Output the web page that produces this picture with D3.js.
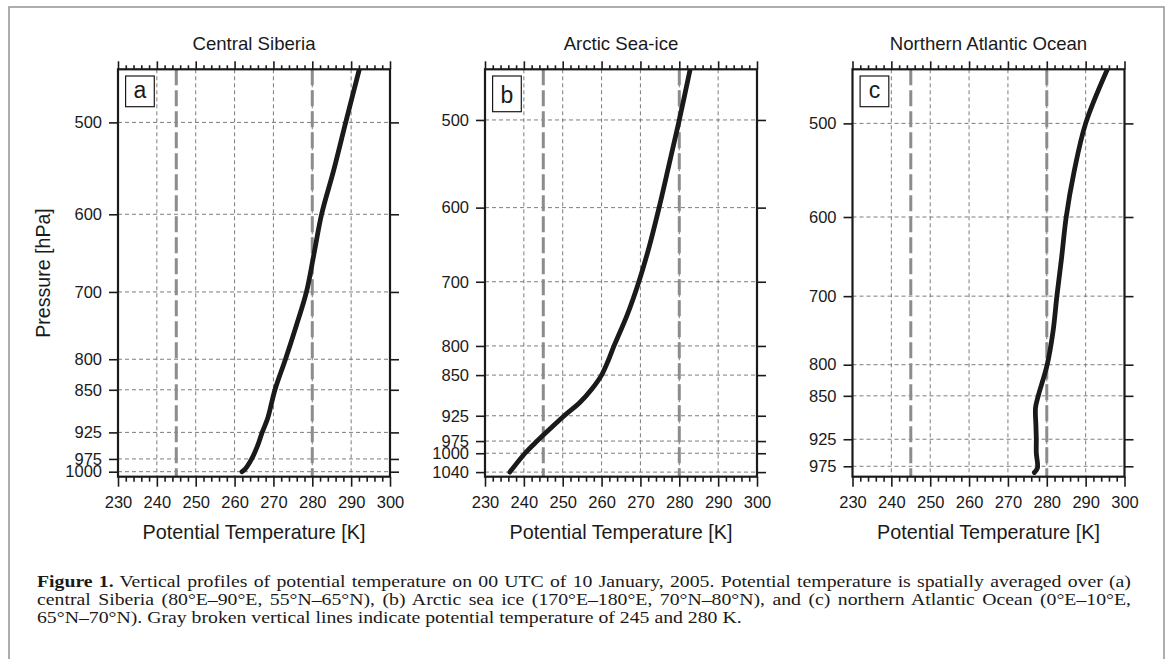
<!DOCTYPE html>
<html>
<head>
<meta charset="utf-8">
<script src="https://cdn.jsdelivr.net/npm/d3@7"></script>
<style>
  body { margin: 0; background: #fff; }
  svg text { font-family: "Liberation Sans", Arial, sans-serif; fill: #1a1a1a; }
  .caption text { font-family: "Liberation Serif", "Times New Roman", serif; }
</style>
</head>
<body>
<svg id="fig" width="1171" height="659"></svg>
<script>
// ---- data ----
const panelTitles = ["Central Siberia", "Arctic Sea-ice", "Northern Atlantic Ocean"];
const panelLetters = ["a", "b", "c"];
const tempTicks = [230, 240, 250, 260, 270, 280, 290, 300];
const refTemps = [245, 280];

const pressureTicksA = [500, 600, 700, 800, 850, 925, 975, 1000];
const pressureTicksB = [500, 600, 700, 800, 850, 925, 975, 1000, 1040];
const pressureTicksC = [500, 600, 700, 800, 850, 925, 975];
const pressureTop = 450;
const pressureBottom = [1010, 1050, 995];

// Central Siberia
const siberiaP = [1000, 995, 975, 950, 925, 900, 850, 800, 750, 700, 650, 600, 550, 500, 450];
const siberiaT = [261.9, 262.7, 264.4, 265.9, 267.1, 268.5, 270.4, 273.1, 275.8, 278.5, 280.4, 282.4, 285.5, 288.6, 292.1];
// Arctic sea ice
const arcticP = [1040, 1000, 975, 950, 925, 900, 875, 850, 825, 800, 750, 700, 650, 600, 550, 500, 450];
const arcticT = [236.4, 240.3, 243.4, 246.8, 250.4, 254.4, 257.5, 260.0, 261.7, 263.2, 266.6, 269.6, 272.3, 274.8, 277.3, 280.0, 282.8];
// Northern Atlantic Ocean
const atlanticP = [987, 978, 950, 925, 900, 870, 850, 800, 750, 700, 650, 600, 550, 500, 450];
const atlanticT = [276.8, 277.6, 277.3, 277.3, 277.2, 277.1, 277.8, 280.1, 281.6, 282.6, 283.8, 285.0, 287.0, 290.0, 295.6];

const captionLines = [
  ["Figure 1.", " Vertical profiles of potential temperature on 00 UTC of 10 January, 2005. Potential temperature is spatially averaged over (a)"],
  ["", "central Siberia (80°E–90°E, 55°N–65°N), (b) Arctic sea ice (170°E–180°E, 70°N–80°N), and (c) northern Atlantic Ocean (0°E–10°E,"],
  ["", "65°N–70°N). Gray broken vertical lines indicate potential temperature of 245 and 280 K."]
];

const profiles = [
  { p: siberiaP, t: siberiaT, ticks: pressureTicksA },
  { p: arcticP, t: arcticT, ticks: pressureTicksB },
  { p: atlanticP, t: atlanticT, ticks: pressureTicksC }
];

// ---- layout ----
const panelLeft = [118, 485, 852.5];
const plotTop = 69.3;
const plotW = 272;
const plotH = 407.4;
const boxH = [30.7, 35.7, 30.7];

const svg = d3.select("#fig");

// figure frame (open at the bottom)
svg.append("rect")
  .attr("x", 9).attr("y", 7)
  .attr("width", 1155).attr("height", 700)
  .attr("fill", "none")
  .attr("stroke", "#9a9a9a")
  .attr("stroke-width", 1.6);

const minorTicks = d3.range(230, 301, 2).filter(d => d % 10 !== 0);

profiles.forEach(function (pr, i) {
  const g = svg.append("g")
    .attr("transform", "translate(" + panelLeft[i] + "," + plotTop + ")");

  const x = d3.scaleLinear().domain([230, 300]).range([0, plotW]);
  const y = d3.scaleLog().domain([pressureTop, pressureBottom[i]]).range([0, plotH]);

  // grid
  g.append("g").selectAll("line")
    .data(tempTicks.slice(1, -1)).join("line")
    .attr("x1", d => x(d)).attr("x2", d => x(d))
    .attr("y1", 0).attr("y2", plotH)
    .attr("stroke", "#6e6e6e").attr("stroke-width", 0.9)
    .attr("stroke-dasharray", "4,3");
  g.append("g").selectAll("line")
    .data(pr.ticks).join("line")
    .attr("x1", 0).attr("x2", plotW)
    .attr("y1", d => y(d)).attr("y2", d => y(d))
    .attr("stroke", "#6e6e6e").attr("stroke-width", 0.9)
    .attr("stroke-dasharray", "4,3");

  // reference lines 245 / 280 K
  g.append("g").selectAll("line")
    .data(refTemps).join("line")
    .attr("x1", d => x(d)).attr("x2", d => x(d))
    .attr("y1", 0).attr("y2", plotH)
    .attr("stroke", "#8c8c8c").attr("stroke-width", 3)
    .attr("stroke-dasharray", "16,5");

  // profile
  const clipId = "clip" + i;
  g.append("clipPath").attr("id", clipId)
    .append("rect").attr("width", plotW).attr("height", plotH);
  const pts = pr.p.map((p, k) => [pr.t[k], p]);
  g.append("path")
    .datum(pts)
    .attr("clip-path", "url(#" + clipId + ")")
    .attr("fill", "none")
    .attr("stroke", "#1a1a1a")
    .attr("stroke-width", 4.8)
    .attr("stroke-linecap", "round")
    .attr("stroke-linejoin", "round")
    .attr("d", d3.line()
      .x(d => x(d[0]))
      .y(d => y(d[1]))
      .curve(d3.curveCatmullRom.alpha(0.5)));

  // axes
  g.append("g").attr("transform", "translate(0," + plotH + ")")
    .call(d3.axisBottom(x).tickValues(minorTicks).tickSize(5).tickSizeOuter(0).tickFormat(""));
  g.append("g").attr("transform", "translate(0," + plotH + ")")
    .call(d3.axisBottom(x).tickValues(tempTicks).tickSize(10).tickSizeOuter(0).tickPadding(10));
  g.append("g")
    .call(d3.axisTop(x).tickValues(minorTicks).tickSize(4).tickSizeOuter(0).tickFormat(""));
  g.append("g")
    .call(d3.axisTop(x).tickValues(tempTicks).tickSize(8).tickSizeOuter(0).tickFormat(""));
  g.append("g")
    .call(d3.axisLeft(y).tickValues(pr.ticks).tickFormat(d3.format("d")).tickSize(9).tickSizeOuter(0).tickPadding(7));
  g.append("g").attr("transform", "translate(" + plotW + ",0)")
    .call(d3.axisRight(y).tickValues(pr.ticks).tickFormat("").tickSize(9).tickSizeOuter(0));

  g.selectAll(".domain").remove();
  g.selectAll(".tick line").attr("stroke", "#1a1a1a").attr("stroke-width", 1.6);
  g.selectAll(".tick text")
    .attr("font-size", 16.5)
    .attr("font-family", "Liberation Sans, Arial, sans-serif")
    .attr("fill", "#1a1a1a");

  // plot frame
  g.append("rect")
    .attr("width", plotW).attr("height", plotH)
    .attr("fill", "none")
    .attr("stroke", "#1a1a1a")
    .attr("stroke-width", 2.2);

  // letter box
  g.append("rect")
    .attr("x", 7.6).attr("y", 6.7)
    .attr("width", 28.7).attr("height", boxH[i])
    .attr("fill", "#fff")
    .attr("stroke", "#1a1a1a").attr("stroke-width", 1.2);
  g.append("text")
    .attr("x", 7.6 + 14.35).attr("y", 6.7 + boxH[i] - 8.6)
    .attr("text-anchor", "middle")
    .attr("font-size", 23)
    .text(panelLetters[i]);

  // titles
  g.append("text")
    .attr("x", plotW / 2).attr("y", 49.5 - plotTop)
    .attr("text-anchor", "middle")
    .attr("font-size", 18.6)
    .text(panelTitles[i]);
  g.append("text")
    .attr("x", plotW / 2).attr("y", 539.5 - plotTop)
    .attr("text-anchor", "middle")
    .attr("font-size", 19.8)
    .text("Potential Temperature [K]");
  if (i === 0) {
    g.append("text")
      .attr("transform", "translate(" + (50 - panelLeft[0]) + "," + (plotH / 2) + ") rotate(-90)")
      .attr("text-anchor", "middle")
      .attr("font-size", 19.6)
      .text("Pressure [hPa]");
  }
});

// caption: the printed face is wider than Times, so stretch the group;
// first two lines are justified, last line is left ragged
const capLeft = 37;
const capRight = 1131;
const lastLineEnd = 742;
const capBase = [587, 605, 623];
const cap = svg.append("g").attr("class", "caption");
const capTexts = captionLines.map(function (ln, k) {
  const t = cap.append("text")
    .attr("x", 0).attr("y", capBase[k])
    .attr("font-size", 17)
    .attr("fill", "#1a1a1a");
  if (ln[0]) t.append("tspan").attr("font-weight", "bold").text(ln[0]);
  t.append("tspan").text(ln[1]);
  return t;
});
const sx = (lastLineEnd - capLeft) / capTexts[2].node().getComputedTextLength();
cap.attr("transform", "translate(" + capLeft + ",0) scale(" + sx.toFixed(4) + ",1)");
[0, 1].forEach(function (k) {
  const ln = captionLines[k];
  const spaces = (ln[0] + ln[1]).split(" ").length - 1;
  const natural = capTexts[k].node().getComputedTextLength();
  capTexts[k].attr("word-spacing", (((capRight - capLeft) / sx - natural) / spaces).toFixed(3));
});
</script>
</body>
</html>
